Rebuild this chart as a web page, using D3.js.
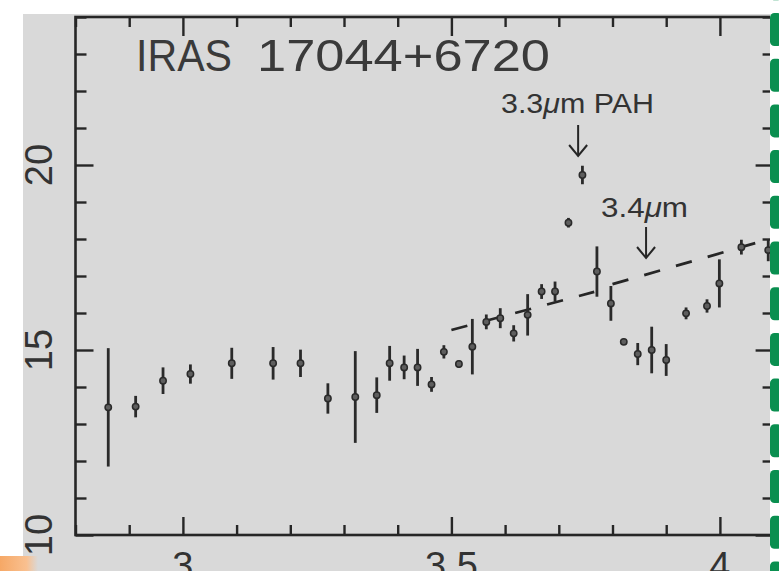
<!DOCTYPE html>
<html><head><meta charset="utf-8">
<script src="https://cdn.jsdelivr.net/npm/d3@7"></script>
<style>html,body{margin:0;padding:0;background:#fff;overflow:hidden}</style>
</head><body>
<svg id="c" width="779" height="571"></svg>
<script>
// ---- data ----
const wavelength = [2.861,2.912,2.963,3.014,3.091,3.168,3.219,3.270,3.321,3.361,3.385,3.412,3.437,3.463,3.486,3.514,3.539,3.565,3.591,3.616,3.642,3.668,3.693,3.718,3.744,3.771,3.797,3.821,3.847,3.873,3.900,3.937,3.976,3.999,4.040,4.090];
const flux       = [13.45,13.47,14.17,14.35,14.64,14.64,14.64,13.69,13.73,13.78,14.64,14.53,14.53,14.07,14.95,14.62,15.09,15.76,15.86,15.45,15.95,16.58,16.58,18.44,19.73,17.12,16.26,15.22,14.89,15.00,14.73,15.99,16.19,16.80,17.78,17.70];
const fluxErr    = [1.60,0.29,0.36,0.26,0.42,0.44,0.37,0.41,1.24,0.48,0.47,0.32,0.50,0.20,0.18,0.10,0.75,0.20,0.27,0.22,0.56,0.20,0.27,0.13,0.25,0.68,0.47,0.08,0.30,0.63,0.43,0.16,0.18,0.65,0.20,0.30];
const contLeftX  = [3.500, 3.766];
const contLeftY  = [15.54, 16.57];
const contRightX = [3.800, 4.100];
const contRightY = [16.78, 18.03];
const xMajorTicks = [3, 3.5, 4];
const xTickLabels = ["3", "3.5", "4"];
const yMajorTicks = [10, 15, 20];
const yTickLabels = ["10", "15", "20"];
const titleWords = ["IRAS", "17044+6720"];
const featureLabels = ["3.3", "m PAH", "3.4", "m"];
const featureWave = [3.736, 3.8625];

// ---- layout ----
const svg = d3.select("#c");
const W = 779, H = 571;
const x = d3.scaleLinear().domain([2.8, 4.1]).range([75.5, 773.6]);
const y = d3.scaleLinear().domain([10, 24]).range([535, 17]);
const ink = "#262626";

// page backgrounds
const defs = svg.append("defs");
const og = defs.append("linearGradient").attr("id","og").attr("x1",0).attr("x2",1);
og.append("stop").attr("offset","0%").attr("stop-color","#f6a866");
og.append("stop").attr("offset","70%").attr("stop-color","#f9c090");
og.append("stop").attr("offset","100%").attr("stop-color","#f9c090").attr("stop-opacity",0);
svg.append("rect").attr("x",0).attr("y",0).attr("width",W).attr("height",H).attr("fill","#ffffff");
svg.append("rect").attr("x",23).attr("y",14).attr("width",W-23).attr("height",H-14).attr("fill","#d9d9d9");
svg.append("rect").attr("x",0).attr("y",556).attr("width",38).attr("height",15).attr("fill","url(#og)");

// axes (inward ticks, majors + minors)
const xMinor = d3.range(2.8, 4.1001, 0.1).map(v => +v.toFixed(2)).filter(v => !xMajorTicks.includes(v));
const yMinor = d3.range(10, 24.001, 1).filter(v => !yMajorTicks.includes(v));
function addAxis(gen, tr, vals, len) {
  const g = svg.append("g").attr("transform", tr)
    .call(gen.tickValues(vals).tickSize(-len).tickSizeOuter(0).tickFormat(""));
  g.select(".domain").remove();
  g.selectAll(".tick line").attr("stroke", ink).attr("stroke-width", 2.4);
  return g;
}
addAxis(d3.axisBottom(x), `translate(0,${y(10)})`, xMajorTicks, 18);
addAxis(d3.axisBottom(x), `translate(0,${y(10)})`, xMinor, 10);
addAxis(d3.axisTop(x), `translate(0,${y(24)})`, xMajorTicks, 19);
addAxis(d3.axisTop(x), `translate(0,${y(24)})`, xMinor, 10);
addAxis(d3.axisLeft(y), `translate(${x(2.8)},0)`, yMajorTicks, 18);
addAxis(d3.axisLeft(y), `translate(${x(2.8)},0)`, yMinor, 11);
addAxis(d3.axisRight(y), `translate(${x(4.1)},0)`, yMajorTicks, 18);
addAxis(d3.axisRight(y), `translate(${x(4.1)},0)`, yMinor, 11);
svg.append("rect").attr("x",x(2.8)).attr("y",y(24)).attr("width",x(4.1)-x(2.8)).attr("height",y(10)-y(24))
  .attr("fill","none").attr("stroke",ink).attr("stroke-width",2.6);

// tick labels (cut by the bottom edge, as in the reference)
svg.selectAll(".xl").data(xMajorTicks).join("text")
  .attr("x", d => x(d)).attr("y", 579).attr("text-anchor","middle")
  .attr("font-family","Liberation Sans, Arial, sans-serif").attr("font-size",38).attr("fill","#333")
  .text((d,i) => xTickLabels[i]);
svg.selectAll(".yl").data(yMajorTicks).join("text")
  .attr("transform", d => `translate(52,${y(d)}) rotate(-90)`).attr("text-anchor","middle")
  .attr("font-family","Liberation Sans, Arial, sans-serif").attr("font-size",38).attr("fill","#333")
  .text((d,i) => yTickLabels[i]);

// continuum (dashed)
const line = d3.line().x(d => x(d[0])).y(d => y(d[1]));
[[contLeftX, contLeftY],[contRightX, contRightY]].forEach(([xs, ys]) => {
  svg.append("path").datum(xs.map((v,i) => [v, ys[i]])).attr("d", line)
    .attr("fill","none").attr("stroke",ink).attr("stroke-width",2.8).attr("stroke-dasharray","16.5 16.5");
});

// data with error bars
const pts = wavelength.map((w,i) => ({w, f: flux[i], e: fluxErr[i]}));
svg.selectAll(".eb").data(pts).join("line")
  .attr("x1", d => x(d.w)).attr("x2", d => x(d.w))
  .attr("y1", d => y(d.f + d.e)).attr("y2", d => y(d.f - d.e))
  .attr("stroke", "#2a2a2a").attr("stroke-width", 2.8);
svg.selectAll(".pt").data(pts).join("circle")
  .attr("cx", d => x(d.w)).attr("cy", d => y(d.f)).attr("r", 3.2)
  .attr("fill", "#5e5e5e").attr("stroke", "#2a2a2a").attr("stroke-width", 1.5);

// title
const tf = "Liberation Sans, Arial, sans-serif";
svg.append("text").attr("x",136).attr("y",71).attr("font-family",tf).attr("font-size",44).attr("fill","#3a3a3a")
  .attr("textLength",96).attr("lengthAdjust","spacingAndGlyphs").text(titleWords[0]);
svg.append("text").attr("x",257).attr("y",71).attr("font-family",tf).attr("font-size",44).attr("fill","#3a3a3a")
  .attr("textLength",293).attr("lengthAdjust","spacingAndGlyphs").text(titleWords[1]);

// annotations
function label(xp, yb, size, len, a, b) {
  const t = svg.append("text").attr("x",xp).attr("y",yb).attr("font-family",tf).attr("font-size",size)
    .attr("fill","#333").attr("textLength",len).attr("lengthAdjust","spacingAndGlyphs");
  t.append("tspan").text(a);
  t.append("tspan").attr("font-style","italic").text("\u03bc");
  t.append("tspan").text(b);
}
label(501, 113, 28, 153, featureLabels[0], featureLabels[1]);
label(601, 217, 27, 87, featureLabels[2], featureLabels[3]);
function arrow(w, y0, y1) {
  const xp = x(w);
  svg.append("line").attr("x1",xp).attr("x2",xp).attr("y1",y0).attr("y2",y1).attr("stroke",ink).attr("stroke-width",2);
  svg.append("path").attr("d",`M${xp-9},${y1-11} L${xp},${y1} L${xp+9},${y1-11}`)
    .attr("fill","none").attr("stroke",ink).attr("stroke-width",2);
}
arrow(featureWave[0], 125, 156);
arrow(featureWave[1], 227, 258);

// green dashed border on the right
svg.append("rect").attr("x",770).attr("y",0).attr("width",9).attr("height",H).attr("fill","#ffffff");
svg.selectAll(".gd").data(d3.range(13 - 45.7, H, 45.7)).join("rect")
  .attr("x",770).attr("y", d => d).attr("width",12).attr("height",33).attr("rx",4.5)
  .attr("fill","#0a8f50");
</script>
</body></html>
